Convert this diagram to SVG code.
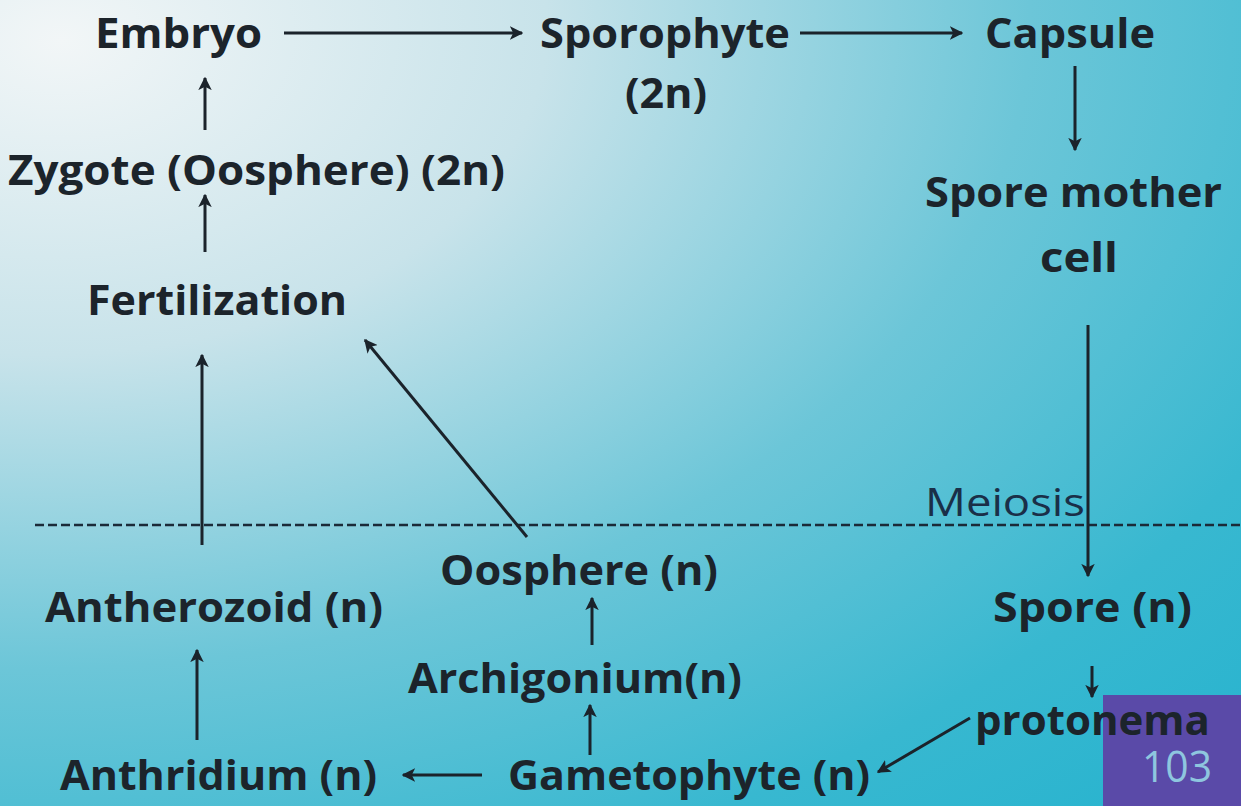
<svg xmlns="http://www.w3.org/2000/svg" width="1241" height="806" viewBox="0 0 1241 806">
<defs>
<radialGradient id="bg" cx="0" cy="0" r="1.35" gradientUnits="objectBoundingBox" fx="0.05" fy="0.05">
<stop offset="0" stop-color="#f2f6f7"/>
<stop offset="0.3" stop-color="#c8e3ea"/>
<stop offset="0.6" stop-color="#6cc6d8"/>
<stop offset="0.85" stop-color="#38b8d0"/>
<stop offset="1" stop-color="#2ab4cf"/>
</radialGradient>
<marker id="ah" viewBox="0 0 10 10" refX="9" refY="5" markerWidth="4.5" markerHeight="4.5" orient="auto" markerUnits="strokeWidth">
<path d="M0,0 L10,5 L0,10 L2.5,5 Z" fill="#1b232b"/>
</marker>
<style>
.t{font-family:"Open Sans","Liberation Sans",sans-serif;font-weight:700;font-size:42px;fill:#1c242b}
.m{font-family:"Open Sans","Liberation Sans",sans-serif;font-weight:400;font-size:38px;fill:#1a2f48}
.c{stroke:#1b232b;stroke-width:3;fill:none;marker-end:url(#ah)}
.d{stroke:#1b2a38;stroke-width:2.5;stroke-dasharray:9,4;fill:none}
</style>
</defs>
<rect width="1241" height="806" fill="url(#bg)"/>
<rect x="1103" y="695" width="138" height="111" fill="#5a4aa8"/>
<text x="1142" y="782" font-family="Open Sans, Liberation Sans, sans-serif" font-size="44" fill="#8ec6df" textLength="70" lengthAdjust="spacingAndGlyphs">103</text>

<g id="connectors">
<path class="d" d="M35,525 H1241"/>
<path class="c" d="M284,33 H522"/>
<path class="c" d="M800,33 H962"/>
<path class="c" d="M1075,66 V150"/>
<path class="c" d="M1088,325 V576"/>
<path class="c" d="M1092,666 V697"/>
<path class="c" d="M970,718 L878,772"/>
<path class="c" d="M482,775 H403"/>
<path class="c" d="M197,740 V650"/>
<path class="c" d="M202,545 V355"/>
<path class="c" d="M205,252 V195"/>
<path class="c" d="M205,130 V78"/>
<path class="c" d="M527,537 L365,340"/>
<path class="c" d="M592,645 V598"/>
<path class="c" d="M590,755 V705"/>
</g>

<g id="embryo"><text class="t" x="95" y="48" textLength="167" lengthAdjust="spacingAndGlyphs">Embryo</text></g>
<g id="sporophyte"><text class="t" x="540" y="48" textLength="250" lengthAdjust="spacingAndGlyphs">Sporophyte</text>
<text class="t" x="625" y="108" textLength="82" lengthAdjust="spacingAndGlyphs">(2n)</text></g>
<g id="capsule"><text class="t" x="985" y="48" textLength="170" lengthAdjust="spacingAndGlyphs">Capsule</text></g>
<g id="spore-mother-cell"><text class="t" x="925" y="207" textLength="297" lengthAdjust="spacingAndGlyphs">Spore mother</text>
<text class="t" x="1040" y="272" textLength="78" lengthAdjust="spacingAndGlyphs">cell</text></g>
<g id="meiosis"><text class="m" x="925" y="516" textLength="160" lengthAdjust="spacingAndGlyphs">Meiosis</text></g>
<g id="spore"><text class="t" x="993" y="622" textLength="199" lengthAdjust="spacingAndGlyphs">Spore (n)</text></g>
<g id="protonema"><text class="t" x="975" y="735" textLength="235" lengthAdjust="spacingAndGlyphs">protonema</text></g>
<g id="gametophyte"><text class="t" x="508" y="790" textLength="362" lengthAdjust="spacingAndGlyphs">Gametophyte (n)</text></g>
<g id="anthridium"><text class="t" x="60" y="790" textLength="317" lengthAdjust="spacingAndGlyphs">Anthridium (n)</text></g>
<g id="antherozoid"><text class="t" x="45" y="622" textLength="338" lengthAdjust="spacingAndGlyphs">Antherozoid (n)</text></g>
<g id="archigonium"><text class="t" x="408" y="693" textLength="334" lengthAdjust="spacingAndGlyphs">Archigonium(n)</text></g>
<g id="oosphere"><text class="t" x="440" y="585" textLength="278" lengthAdjust="spacingAndGlyphs">Oosphere (n)</text></g>
<g id="fertilization"><text class="t" x="87" y="315" textLength="260" lengthAdjust="spacingAndGlyphs">Fertilization</text></g>
<g id="zygote"><text class="t" x="8" y="185" textLength="497" lengthAdjust="spacingAndGlyphs">Zygote (Oosphere) (2n)</text></g>
</svg>
